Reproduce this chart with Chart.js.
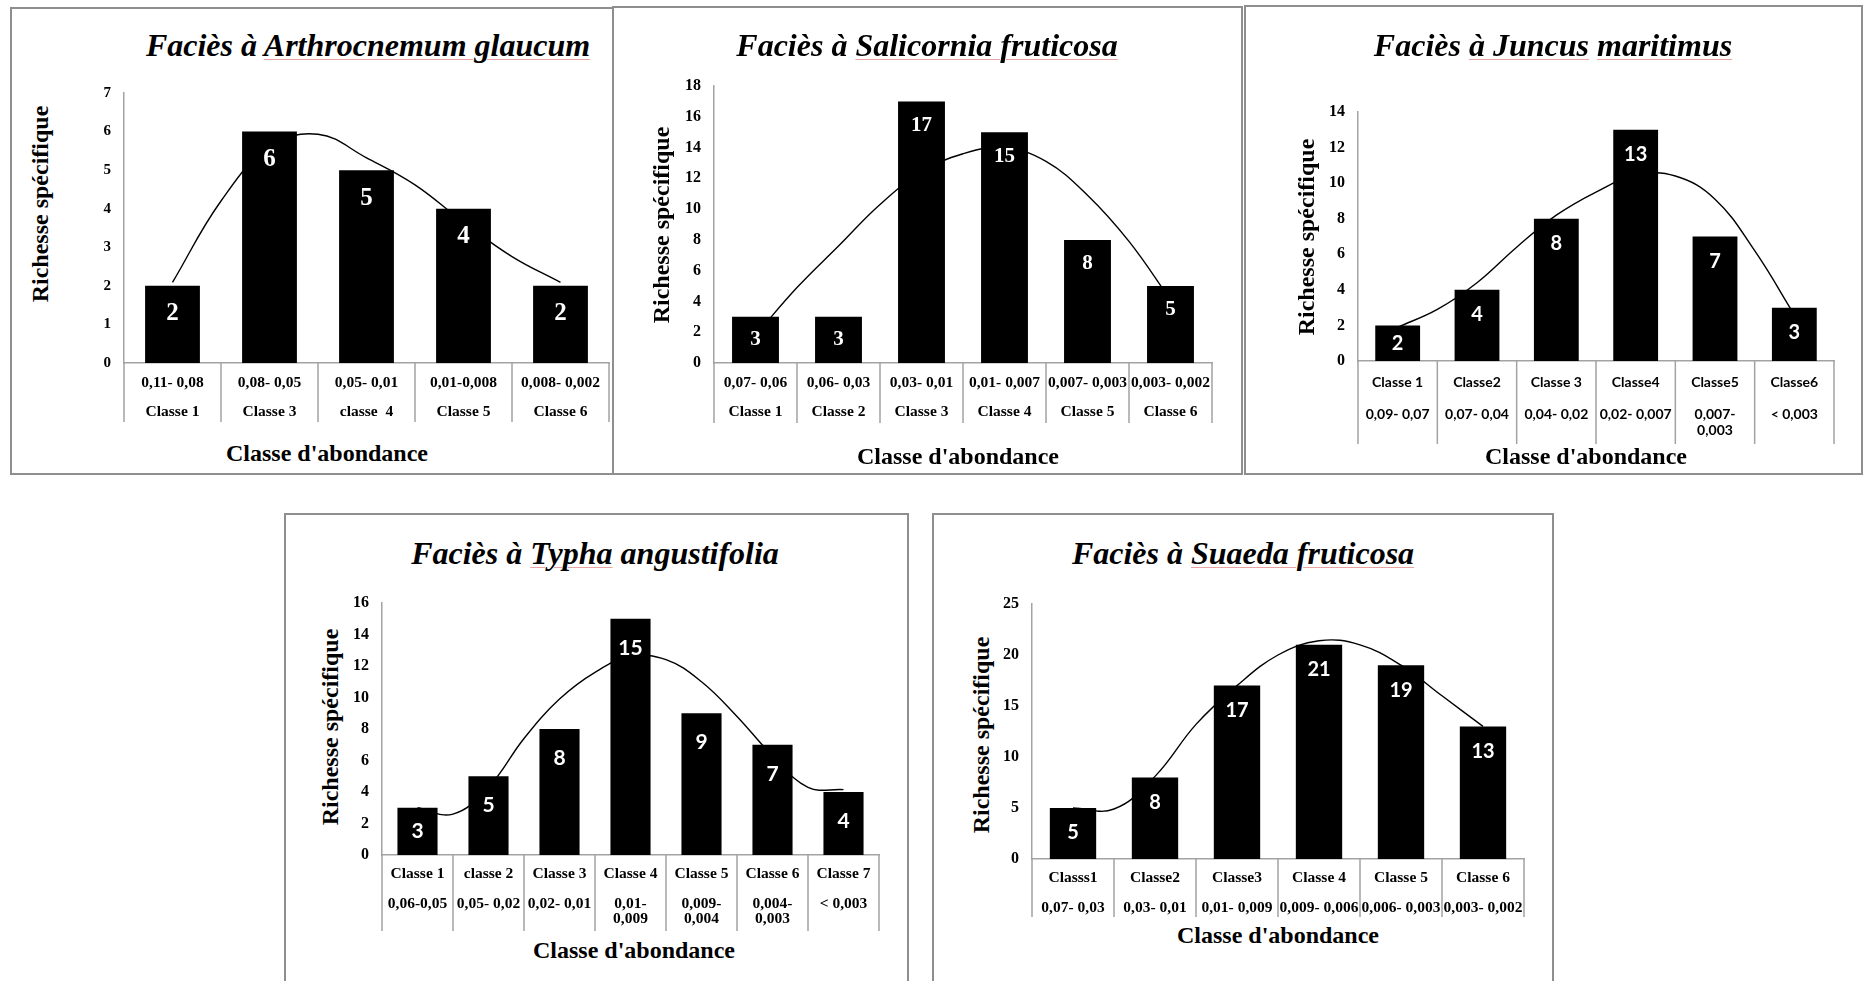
<!DOCTYPE html>
<html lang="fr">
<head>
<meta charset="utf-8">
<title>Richesse spécifique par classe d'abondance</title>
<script src="https://cdn.jsdelivr.net/npm/chart.js@4.4.1/dist/chart.umd.min.js"></script>
<style>
  html, body { margin: 0; padding: 0; background: #fff; width: 1863px; height: 981px; overflow: hidden; }
  .panel { position: absolute; box-sizing: border-box; border: 2px solid #8e8e8e; background: #fff; }
  .wrap  { position: absolute; }
  .titre { position: absolute; width: 640px; text-align: center; white-space: nowrap; color: #000;
           font: italic bold 32px "Liberation Serif", "Times New Roman", serif; line-height: 40px; }
  .titre .sp { text-decoration: underline; text-decoration-color: #eaa2a2; text-decoration-thickness: 1px; text-underline-offset: 3px; }
  .xtit, .ytit { position: absolute; width: 300px; height: 30px; line-height: 30px; text-align: center; white-space: nowrap;
                 font: bold 24px "Liberation Serif", "Times New Roman", serif; color: #000; }
  .ytit { transform: rotate(-90deg); }
</style>
</head>
<body>
<script>
// ---- Faciès à Arthrocnemum glaucum
const arthroClasses  = ["Classe 1", "Classe 3", "classe  4", "Classe 5", "Classe 6"];
const arthroSeuils   = ["0,11- 0,08", "0,08- 0,05", "0,05- 0,01", "0,01-0,008", "0,008- 0,002"];
const arthroRichesse = [2, 6, 5, 4, 2];
const arthroCourbe   = [2.09, 4.2, 5.6, 5.93, 5.32, 4.62, 3.65, 2.76, 2.09]; // lue tous les demi-pas de classe
const arthroTicksY   = [0, 1, 2, 3, 4, 5, 6, 7];

// ---- Faciès à Salicornia fruticosa
const salicClasses  = ["Classe 1", "Classe 2", "Classe 3", "Classe 4", "Classe 5", "Classe 6"];
const salicSeuils   = ["0,07- 0,06", "0,06- 0,03", "0,03- 0,01", "0,01- 0,007", "0,007- 0,003", "0,003- 0,002"];
const salicRichesse = [3, 3, 17, 15, 8, 5];
const salicCourbe   = [1.8, 4.9, 7.6, 10.3, 12.4, 13.6, 14.0, 13.1, 10.9, 7.9, 4.1];
const salicTicksY   = [0, 2, 4, 6, 8, 10, 12, 14, 16, 18];

// ---- Faciès à Juncus maritimus
const juncusClasses  = ["Classe 1", "Classe2", "Classe 3", "Classe4", "Classe5", "Classe6"];
const juncusSeuils   = ["0,09- 0,07", "0,07- 0,04", "0,04- 0,02", "0,02- 0,007", ["0,007-", "0,003"], "< 0,003"];
const juncusRichesse = [2, 4, 8, 13, 7, 3];
const juncusCourbe   = [1.9, 2.9, 4.4, 6.4, 8.2, 9.5, 10.45, 10.4, 9.1, 6.2, 2.6];
const juncusTicksY   = [0, 2, 4, 6, 8, 10, 12, 14];

// ---- Faciès à Typha angustifolia
const typhaClasses  = ["Classe 1", "classe 2", "Classe 3", "Classe 4", "Classe 5", "Classe 6", "Classe 7"];
const typhaSeuils   = ["0,06-0,05", "0,05- 0,02", "0,02- 0,01", ["0,01-", "0,009"], ["0,009-", "0,004"], ["0,004-", "0,003"], "< 0,003"];
const typhaRichesse = [3, 5, 8, 15, 9, 7, 4];
const typhaCourbe   = [3.0, 2.6, 4.3, 7.4, 9.9, 11.6, 12.6, 12.4, 11.0, 8.8, 6.3, 4.3, 4.15];
const typhaTicksY   = [0, 2, 4, 6, 8, 10, 12, 14, 16];

// ---- Faciès à Suaeda fruticosa
const suaedaClasses  = ["Classs1", "Classe2", "Classe3", "Classe 4", "Classe 5", "Classe 6"];
const suaedaSeuils   = ["0,07- 0,03", "0,03- 0,01", "0,01- 0,009", "0,009- 0,006", "0,006- 0,003", "0,003- 0,002"];
const suaedaRichesse = [5, 8, 17, 21, 19, 13];
const suaedaCourbe   = [5.0, 4.9, 8.1, 13.2, 17.0, 20.0, 21.4, 21.0, 19.0, 16.0, 13.0];
const suaedaTicksY   = [0, 5, 10, 15, 20, 25];

const SERIF = '"Liberation Serif", "Times New Roman", serif';
const SANS  = 'Lato, "Open Sans", sans-serif';
const GRIS  = "#a3a3a3";

// box = [x, y, l, h] du cadre ; plot = [gauche, haut, droite, bas] de la zone de tracé (coordonnées page)
const panneaux = [
  { titre: 'Faciès à <span class="sp">Arthrocnemum glaucum</span>', tx: 368, ty: 55,
    box: [10, 7, 604, 468], plot: [124, 93, 609, 363], sepBas: 422,
    classes: arthroClasses, seuils: arthroSeuils, seuilsEnHaut: true, valeurs: arthroRichesse, courbe: arthroCourbe, ticksY: arthroTicksY,
    xt: [327, 455], yt: [42, 204], policeX: SERIF, tailleX: 15.5, ligneX: 14.5, padX: 12.75, tailleY: 15,
    etiq: "bold 25px " + SERIF, decal: 28 },
  { titre: 'Faciès à <span class="sp">Salicornia fruticosa</span>', tx: 927, ty: 55,
    box: [612, 6, 631, 469], plot: [714, 86, 1212, 363], sepBas: 423,
    classes: salicClasses, seuils: salicSeuils, seuilsEnHaut: true, valeurs: salicRichesse, courbe: salicCourbe, ticksY: salicTicksY,
    xt: [958, 458], yt: [663, 225], policeX: SERIF, tailleX: 15.5, ligneX: 14.5, padX: 12.75, tailleY: 16,
    etiq: "bold 21px " + SERIF, decal: 24 },
  { titre: 'Faciès <span class="sp">à Juncus</span> <span class="sp">maritimus</span>', tx: 1553, ty: 55,
    box: [1244, 5, 619, 470], plot: [1358, 112, 1834, 361], sepBas: 444,
    classes: juncusClasses, seuils: juncusSeuils, seuilsEnHaut: false, valeurs: juncusRichesse, courbe: juncusCourbe, ticksY: juncusTicksY,
    xt: [1586, 458], yt: [1308, 237], policeX: SANS, tailleX: 14, ligneX: 16, padX: 13, tailleY: 16,
    etiq: "bold 20px " + SANS, decal: 25 },
  { titre: 'Faciès à <span class="sp">Typha</span> angustifolia', tx: 595, ty: 563,
    box: [284, 513, 625, 480], plot: [382, 603, 879, 855], sepBas: 931,
    classes: typhaClasses, seuils: typhaSeuils, seuilsEnHaut: false, valeurs: typhaRichesse, courbe: typhaCourbe, ticksY: typhaTicksY,
    xt: [634, 952], yt: [332, 727], policeX: SERIF, tailleX: 15.5, ligneX: 15, padX: 11.5, tailleY: 16,
    etiq: "bold 21px " + SANS, decal: 29 },
  { titre: 'Faciès à <span class="sp">Suaeda fruticosa</span>', tx: 1243, ty: 563,
    box: [932, 513, 622, 480], plot: [1032, 604, 1524, 859], sepBas: 917,
    classes: suaedaClasses, seuils: suaedaSeuils, seuilsEnHaut: false, valeurs: suaedaRichesse, courbe: suaedaCourbe, ticksY: suaedaTicksY,
    xt: [1278, 937], yt: [983, 735], policeX: SERIF, tailleX: 15.5, ligneX: 15, padX: 11.5, tailleY: 16,
    etiq: "bold 20px " + SANS, decal: 25 },
];

// traits verticaux du tableau de catégories (style Excel)
const separateurs = {
  id: "separateurs",
  afterDraw(chart, args, opts) {
    const xs = chart.scales.x, ctx = chart.ctx;
    const n = chart.data.labels.length;
    const demi = (xs.getPixelForValue(1) - xs.getPixelForValue(0)) / 2;
    ctx.save();
    ctx.strokeStyle = GRIS;
    ctx.lineWidth = 1.5;
    ctx.beginPath();
    for (let i = 0; i <= n; i++) {
      const x = i < n ? xs.getPixelForValue(i) - demi : xs.getPixelForValue(n - 1) + demi;
      ctx.moveTo(x, xs.top);
      ctx.lineTo(x, opts.bas);
    }
    ctx.stroke();
    ctx.restore();
  },
};

// valeurs en blanc dans le haut des barres
const etiquettes = {
  id: "etiquettes",
  afterDatasetsDraw(chart, args, opts) {
    const ctx = chart.ctx;
    const vals = chart.data.datasets[0].data;
    ctx.save();
    ctx.fillStyle = "#fff";
    ctx.font = opts.police;
    ctx.textAlign = "center";
    ctx.textBaseline = "middle";
    chart.getDatasetMeta(0).data.forEach((bar, i) => {
      const y = Math.min(bar.y + opts.decalage, (bar.y + bar.base) / 2);
      ctx.fillText(vals[i], bar.x, y);
    });
    ctx.restore();
  },
};

function ajouteTexte(cls, html, left, top) {
  const d = document.createElement("div");
  d.className = cls;
  d.innerHTML = html;
  d.style.left = left + "px";
  d.style.top = top + "px";
  document.body.appendChild(d);
}

function dessinePanneau(p) {
  const [bx, by, bw, bh] = p.box;
  const [L, T, R, B] = p.plot;
  const wh = Math.min(bh, 981 - by);
  const n = p.classes.length;

  const cadre = document.createElement("div");
  cadre.className = "panel";
  cadre.style.cssText = `left:${bx}px;top:${by}px;width:${bw}px;height:${bh}px`;
  document.body.appendChild(cadre);

  ajouteTexte("titre", p.titre, p.tx - 320, p.ty - 30.5);
  ajouteTexte("xtit", "Classe d'abondance", p.xt[0] - 150, p.xt[1] - 15);
  ajouteTexte("ytit", "Richesse spécifique", p.yt[0] - 150, p.yt[1] - 15);

  const wrap = document.createElement("div");
  wrap.className = "wrap";
  wrap.style.cssText = `left:${bx}px;top:${by}px;width:${bw}px;height:${wh}px`;
  const cv = document.createElement("canvas");
  wrap.appendChild(cv);
  document.body.appendChild(wrap);

  const labels = p.classes.map((c, i) => p.seuilsEnHaut
    ? [].concat(p.seuils[i], "", c)
    : [].concat(c, "", p.seuils[i]));

  const yMax = p.ticksY[p.ticksY.length - 1];
  const pasY = p.ticksY[1] - p.ticksY[0];

  new Chart(cv, {
    type: "bar",
    plugins: [separateurs, etiquettes],
    data: {
      labels,
      datasets: [
        { type: "bar", data: p.valeurs, backgroundColor: "#000", borderWidth: 0, grouped: false,
          barPercentage: 0.565, categoryPercentage: 1, order: 1 },
        { type: "line", xAxisID: "x2", data: p.courbe.map((v, i) => ({ x: i / 2, y: v })),
          borderColor: "#000", borderWidth: 1.4, pointRadius: 0, tension: 0.4, fill: false, order: 0 },
      ],
    },
    options: {
      responsive: true, maintainAspectRatio: false, animation: false,
      layout: { padding: { left: 0, top: T - by, right: bx + bw - R, bottom: 0 } },
      plugins: {
        legend: { display: false }, tooltip: { enabled: false },
        separateurs: { bas: p.sepBas - by },
        etiquettes: { police: p.etiq, decalage: p.decal },
      },
      scales: {
        x: {
          type: "category", offset: true,
          grid: { display: false, drawTicks: false },
          border: { display: true, color: GRIS, width: 1.5 },
          ticks: { autoSkip: false, maxRotation: 0, minRotation: 0, padding: p.padX, color: "#000",
                   font: { family: p.policeX, weight: "bold", size: p.tailleX, lineHeight: p.ligneX + "px" } },
          afterFit: (s) => { s.height = by + wh - B; },
        },
        x2: { type: "linear", display: false, min: -0.5, max: n - 0.5, offset: false },
        y: {
          min: 0, max: yMax,
          grid: { display: false, drawTicks: false },
          border: { display: true, color: GRIS, width: 1.5 },
          ticks: { stepSize: pasY, padding: 13, color: "#000", font: { family: SERIF, weight: "bold", size: p.tailleY } },
          afterFit: (s) => { s.width = L - bx; },
        },
      },
    },
  });
}

panneaux.forEach(dessinePanneau);
</script>
</body>
</html>
